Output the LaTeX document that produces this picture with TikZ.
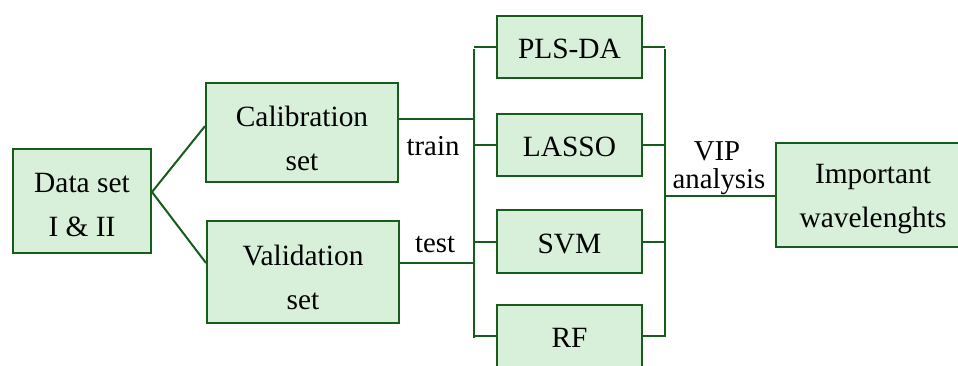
\documentclass[tikz,border=0pt]{standalone}
\usepackage{fontspec}
\setmainfont{Liberation Serif}
\definecolor{boxline}{RGB}{22,92,26}
\definecolor{boxfill}{RGB}{216,239,217}
\begin{document}
\begin{tikzpicture}[x=0.5pt,y=-0.5pt,
  box/.style={draw=boxline,fill=boxfill,line width=1pt,inner sep=0pt},
  txt/.style={inner sep=0pt,align=center,font=\fontsize{14.7}{22}\selectfont},
  link/.style={draw=boxline,line width=1pt},
  lbl/.style={inner sep=0pt,font=\fontsize{14.4}{13}\selectfont}]
\useasboundingbox (0,0) rectangle (958,365);
\begin{scope}
\clip (0,0) rectangle (958,365);
% input and split boxes
\node[box,minimum width=69pt,minimum height=52pt] (ds) at (82,201) {};
\node[box,minimum width=96pt,minimum height=49.5pt] (cal) at (302,132.5) {};
\node[box,minimum width=96pt,minimum height=51pt] (val) at (303,272) {};
% models
\node[box,minimum width=72.5pt,minimum height=31pt] (pls) at (569.5,47) {};
\node[box,minimum width=72.5pt,minimum height=31pt] (lasso) at (569.5,145) {};
\node[box,minimum width=72.5pt,minimum height=31.5pt] (svm) at (569.5,241.5) {};
\node[box,minimum width=72.5pt,minimum height=31pt] (rf) at (569.5,336) {};
% result
\node[box,minimum width=97pt,minimum height=52pt] (imp) at (873,195) {};

% box texts
\node[txt] (dst) at ([yshift=-2pt]ds.center) {Data set\\I \& II};
\node[txt] (calt) at ([yshift=-3pt]cal.center) {Calibration\\set};
\node[txt] (valt) at ([yshift=-2.5pt]val.center) {Validation\\set};
\node[txt] (plst) at ([yshift=-1pt]pls.center) {PLS-DA};
\node[txt] (lassot) at ([yshift=-1pt]lasso.center) {LASSO};
\node[txt] (svmt) at ([yshift=-1pt]svm.center) {SVM};
\node[txt] (rft) at ([yshift=-1pt]rf.center) {RF};
\node[txt] (impt) at ([yshift=-2pt]imp.center) {Important\\wavelenghts};

% buses
\coordinate (lt) at (474,49);
\coordinate (lb) at (474,338);
\coordinate (rt) at (665,49);
\coordinate (rb) at (665,337);
\coordinate (rm) at (665,196);
\draw[link] (lt) -- (lb);
\draw[link] (rt) -- (rb);

% split
\draw[link] ([yshift=4.5pt]ds.east) -- ([yshift=3.2pt]cal.west);
\draw[link] ([yshift=4.5pt]ds.east) -- ([yshift=4.5pt]val.west);
\draw[link] ([yshift=6.75pt]cal.east) -- ([yshift=6.75pt]cal.east -| lt);
\draw[link] ([yshift=4.5pt]val.east) -- ([yshift=4.5pt]val.east -| lt);

% models in and out
\foreach \m in {pls,lasso,svm,rf}{
  \draw[link] (\m.west) -- (\m.west -| lt);
  \draw[link] (\m.east) -- (\m.east -| rt);
}
\draw[link] (rm) -- (rm -| imp.west);

% labels
\node[lbl] (train) at (433,146) {train};
\node[lbl] (test) at (435,245) {test};
\node[lbl] (vip) at (717,151) {VIP};
\node[lbl] (ana) at (719,182) {analysis};
\end{scope}
\end{tikzpicture}
\end{document}
